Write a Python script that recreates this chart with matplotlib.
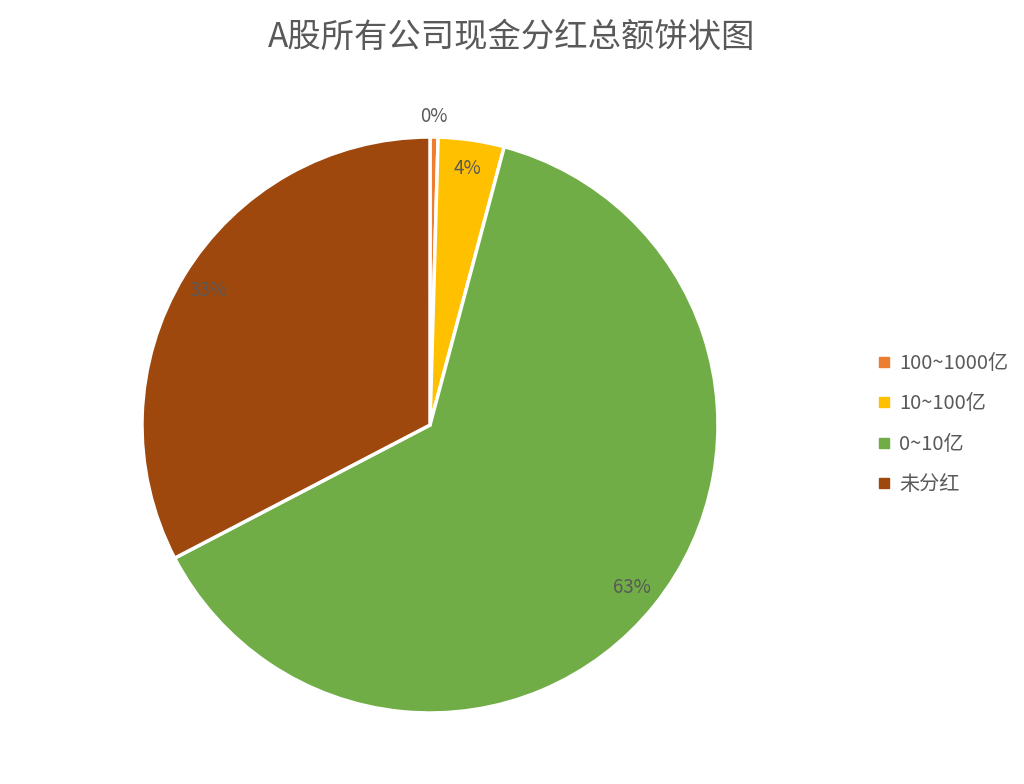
import numpy as np
import matplotlib
matplotlib.use('Agg')
import matplotlib.pyplot as plt
from matplotlib.lines import Line2D

plt.rcParams['font.family'] = ['Noto Sans CJK SC', 'DejaVu Sans']

# data (share of companies, %)
categories = ['100~1000亿', '10~100亿', '0~10亿', '未分红']
shares = [0.45, 3.7, 63.2, 32.65]
colors = ['#ED7D31', '#FFC000', '#70AD47', '#9E480E']
title = 'A股所有公司现金分红总额饼状图'
text_color = '#595959'

fig = plt.figure(figsize=(10.24, 7.84), dpi=100)
ax = fig.add_axes([142 / 1024, 71 / 784, 576 / 1024, 576 / 784])

wedges, texts, autotexts = ax.pie(
    shares, colors=colors, startangle=90, counterclock=False,
    autopct='%1.0f%%', pctdistance=0.9,
    wedgeprops=dict(edgecolor='white', linewidth=2.5),
    textprops=dict(color=text_color, fontsize=13.5))
ax.set_xlim(-1, 1)
ax.set_ylim(-1, 1)
ax.set_aspect('equal')

# the tiny slice gets its label outside the pie
w = wedges[0]
ang = np.deg2rad((w.theta1 + w.theta2) / 2)
autotexts[0].set_position((1.07 * np.cos(ang), 1.07 * np.sin(ang)))

fig.text(0.5, 1 - 37 / 784, title, ha='center', va='center',
         fontsize=24, color=text_color)

handles = [Line2D([], [], marker='s', linestyle='', markersize=7,
                  markerfacecolor=c, markeredgecolor=c) for c in colors]
fig.legend(handles, categories, loc='center left',
           bbox_to_anchor=(0.84, 1 - 424 / 784), frameon=False,
           fontsize=14.5, labelcolor=text_color, handlelength=0.6,
           handletextpad=0.45, labelspacing=0.95)

fig.savefig('out.png', dpi=100)
